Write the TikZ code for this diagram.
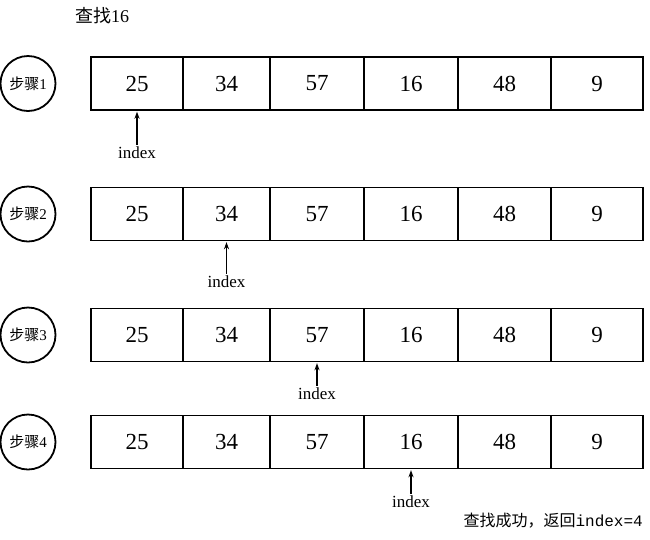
\documentclass[tikz,border=0pt]{standalone}
\usepackage{fontspec}
\setmainfont{Liberation Serif}
\setmonofont{Liberation Mono}
\newfontfamily\cjk{Noto Sans CJK SC}
\usetikzlibrary{arrows.meta,positioning}
\tikzset{
    cell-box/.style = {draw, line width=1.4pt, rectangle, minimum height=53pt, inner sep=0pt, font=\fontsize{23}{23}\selectfont},
    step-circle/.style = {draw, line width=1.8pt, circle, minimum size=55pt, inner sep=0pt, font=\fontsize{15}{15}\selectfont},
    index-label/.style = {inner sep=1pt, font=\fontsize{17}{17}\selectfont},
    index-arrow/.style = {-{Stealth[length=7pt,width=5pt]}, line width=1.1pt, shorten <=1pt, shorten >=1pt},
}

\begin{document}
\begin{tikzpicture}[x=1pt,y=-1pt]
\useasboundingbox (0,0) rectangle (650,539);
\node[font=\fontsize{18}{18}\selectfont] (title) at (102,16) {\cjk 查找\rmfamily 16};
\foreach \r/\y/\p/\ly in {1/83.5/1/153, 2/214/2/282, 3/335/3/394, 4/442/4/502} {
    \node[step-circle] (s\r) at (28,\y) {\cjk 步骤\rmfamily\r};
    \foreach \c/\xl/\xr/\v in {1/91/183/25, 2/183/270/34, 3/270/364/57, 4/364/458/16, 5/458/551/48, 6/551/643/9} {
        \node[cell-box, minimum width={(\xr-\xl)*1pt}] (c\r-\c) at ({(\xl+\xr)/2},\y) {\v};
    }
    \node[index-label] (idx\r) at (c\r-\p.south |- 0,\ly) {index};
    \draw[index-arrow] (idx\r.north) -- (c\r-\p.south);
}
\node[anchor=east, inner sep=0pt, font=\fontsize{16}{16}\selectfont] (result) at (643,521) {\cjk 查找成功，返回\ttfamily index=4};
\end{tikzpicture}
\end{document}
